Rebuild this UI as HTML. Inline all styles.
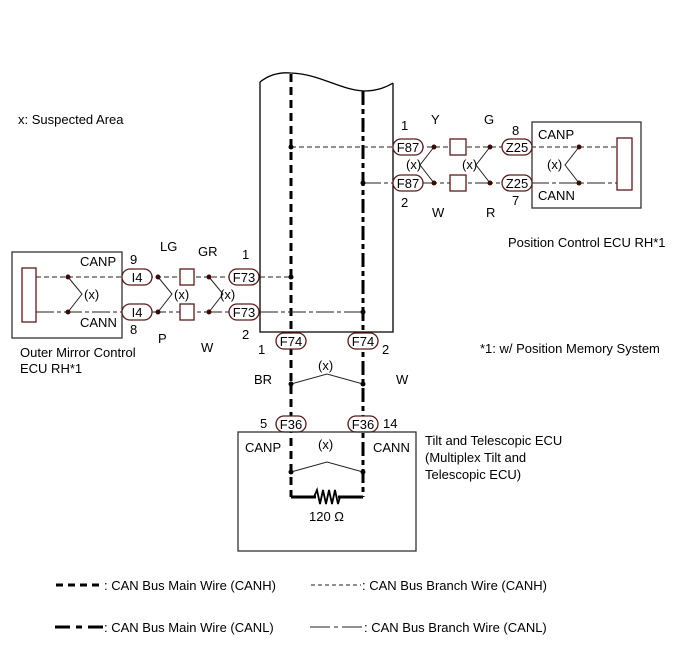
<!DOCTYPE html>
<html><head><meta charset="utf-8"><style>
body{margin:0;background:#fff}
svg{display:block}
text{font-family:"Liberation Sans",sans-serif;font-size:13px;fill:#000}
.pill{fill:#fff;stroke:#5a1a1a;stroke-width:1.3}
.ct{font-size:13px;text-anchor:middle}
</style></head><body>
<svg width="690" height="660" viewBox="0 0 690 660" xmlns="http://www.w3.org/2000/svg">
<text x="18" y="124">x: Suspected Area</text>
<path d="M260 82 C270 74,280 72,291 73 C320 74,340 90,364 91 C375 91,385 88,393 83" fill="none" stroke="#000" stroke-width="1.3"/>
<path d="M260 82 V332 H393 V83" fill="none" stroke="#000" stroke-width="1.3"/>
<line x1="291" y1="74" x2="291" y2="497" stroke="#000" stroke-width="3" stroke-dasharray="8,5"/>
<path d="M363 91 V497" stroke="#000" stroke-width="3" fill="none" stroke-dasharray="14,4,5,4"/>
<path d="M291 497 H363" stroke="#000" stroke-width="3" fill="none"/>
<rect x="316" y="490" width="22" height="14" fill="#fff"/>
<path d="M314 497 L317 490 L320 504 L323 490 L326 504 L329 490 L332 504 L335 490 L338 504 L340 497" fill="none" stroke="#000" stroke-width="1.8"/>
<text x="309" y="521">120 Ω</text>
<line x1="291" y1="147" x2="617" y2="147" stroke="#222" stroke-width="1" stroke-dasharray="5,3"/>
<line x1="363" y1="183" x2="617" y2="183" stroke="#222" stroke-width="1" stroke-dasharray="18,3,4,3"/>
<line x1="36" y1="277" x2="291" y2="277" stroke="#222" stroke-width="1" stroke-dasharray="5,3"/>
<line x1="36" y1="312" x2="363" y2="312" stroke="#222" stroke-width="1" stroke-dasharray="18,3,4,3"/>
<g fill="none" stroke="#222" stroke-width="1">
<path d="M68 277 L82 294 L68 312"/>
<path d="M158 277 L172 294 L158 312"/>
<path d="M209 277 L223 294 L209 312"/>
<path d="M434 147 L420 165 L434 183"/>
<path d="M490 147 L476 165 L490 183"/>
<path d="M579 147 L565 165 L579 183"/>
<path d="M291 384 L327 374 L363 384"/>
<path d="M291 472 L327 462 L363 472"/>
</g>
<g fill="#3a0a0a">
<circle cx="68" cy="277" r="2.5"/><circle cx="68" cy="312" r="2.5"/>
<circle cx="158" cy="277" r="2.5"/><circle cx="158" cy="312" r="2.5"/>
<circle cx="209" cy="277" r="2.5"/><circle cx="209" cy="312" r="2.5"/>
<circle cx="434" cy="147" r="2.5"/><circle cx="434" cy="183" r="2.5"/>
<circle cx="490" cy="147" r="2.5"/><circle cx="490" cy="183" r="2.5"/>
<circle cx="579" cy="147" r="2.5"/><circle cx="579" cy="183" r="2.5"/>
</g>
<g fill="#000">
<circle cx="291" cy="147" r="2.5"/><circle cx="363" cy="183" r="2.5"/>
<circle cx="291" cy="277" r="2.5"/><circle cx="363" cy="312" r="2.5"/>
<circle cx="291" cy="384" r="2.5"/><circle cx="363" cy="384" r="2.5"/>
<circle cx="291" cy="472" r="2.5"/><circle cx="363" cy="472" r="2.5"/>
</g>
<text x="84" y="299">(x)</text><text x="174" y="299">(x)</text><text x="220" y="299">(x)</text>
<text x="406" y="169">(x)</text><text x="462" y="169">(x)</text><text x="547" y="169">(x)</text>
<text x="318" y="370">(x)</text><text x="318" y="449">(x)</text>
<rect x="12" y="252" width="110" height="86" fill="none" stroke="#333" stroke-width="1.3"/>
<rect x="22" y="268" width="14" height="54" fill="#fff" stroke="#5a1a1a" stroke-width="1.3"/>
<text x="80" y="266">CANP</text><text x="80" y="327">CANN</text>
<text x="20" y="357">Outer Mirror Control</text><text x="20" y="373">ECU RH*1</text>
<rect x="532" y="122" width="109" height="86" fill="none" stroke="#333" stroke-width="1.3"/>
<rect x="617" y="138" width="15" height="52" fill="#fff" stroke="#5a1a1a" stroke-width="1.3"/>
<text x="538" y="139">CANP</text><text x="538" y="200">CANN</text>
<text x="508" y="247">Position Control ECU RH*1</text>
<text x="480" y="353">*1: w/ Position Memory System</text>
<g fill="#fff" stroke="#5a1a1a" stroke-width="1.3">
<rect x="180" y="269" width="14" height="16"/><rect x="180" y="304" width="14" height="16"/>
<rect x="450" y="139" width="16" height="16"/><rect x="450" y="175" width="16" height="16"/>
</g>
<g>
<rect class="pill" x="122" y="269" width="30" height="16" rx="8"/><text class="ct" x="137" y="282">I4</text>
<rect class="pill" x="122" y="304" width="30" height="16" rx="8"/><text class="ct" x="137" y="317">I4</text>
<rect class="pill" x="229" y="269" width="30" height="16" rx="8"/><text class="ct" x="244" y="282">F73</text>
<rect class="pill" x="229" y="304" width="30" height="16" rx="8"/><text class="ct" x="244" y="317">F73</text>
<rect class="pill" x="393" y="139" width="30" height="16" rx="8"/><text class="ct" x="408" y="152">F87</text>
<rect class="pill" x="393" y="175" width="30" height="16" rx="8"/><text class="ct" x="408" y="188">F87</text>
<rect class="pill" x="502" y="139" width="30" height="16" rx="8"/><text class="ct" x="517" y="152">Z25</text>
<rect class="pill" x="502" y="175" width="30" height="16" rx="8"/><text class="ct" x="517" y="188">Z25</text>
<rect class="pill" x="276" y="333" width="30" height="16" rx="8"/><text class="ct" x="291" y="346">F74</text>
<rect class="pill" x="348" y="333" width="30" height="16" rx="8"/><text class="ct" x="363" y="346">F74</text>
<rect class="pill" x="276" y="416" width="30" height="16" rx="8"/><text class="ct" x="291" y="429">F36</text>
<rect class="pill" x="348" y="416" width="30" height="16" rx="8"/><text class="ct" x="363" y="429">F36</text>
</g>
<text x="130" y="264">9</text><text x="130" y="334">8</text>
<text x="160" y="251">LG</text><text x="158" y="343">P</text>
<text x="198" y="256">GR</text><text x="201" y="352">W</text>
<text x="242" y="259">1</text><text x="242" y="339">2</text>
<text x="258" y="354">1</text><text x="382" y="354">2</text>
<text x="254" y="384">BR</text><text x="396" y="384">W</text>
<text x="401" y="130">1</text><text x="401" y="207">2</text>
<text x="431" y="124">Y</text><text x="432" y="217">W</text>
<text x="484" y="124">G</text><text x="486" y="217">R</text>
<text x="512" y="135">8</text><text x="512" y="205">7</text>
<text x="260" y="428">5</text><text x="383" y="428">14</text>
<rect x="238" y="432" width="178" height="119" fill="none" stroke="#333" stroke-width="1.3"/>
<text x="245" y="452">CANP</text><text x="373" y="452">CANN</text>
<text x="425" y="445">Tilt and Telescopic ECU</text>
<text x="425" y="462">(Multiplex Tilt and</text>
<text x="425" y="479">Telescopic ECU)</text>
<line x1="56" y1="585" x2="103" y2="585" stroke="#000" stroke-width="3" stroke-dasharray="7,5"/>
<text x="104" y="590">: CAN Bus Main Wire (CANH)</text>
<line x1="311" y1="585" x2="361" y2="585" stroke="#222" stroke-width="1" stroke-dasharray="4,3"/>
<text x="362" y="590">: CAN Bus Branch Wire (CANH)</text>
<path d="M55 627 H70 M76 627 H82 M88 627 H103" stroke="#000" stroke-width="3"/>
<text x="104" y="632">: CAN Bus Main Wire (CANL)</text>
<path d="M310 627 H330 M334 627 H338 M342 627 H362" stroke="#222" stroke-width="1"/>
<text x="364" y="632">: CAN Bus Branch Wire (CANL)</text>
</svg>
</body></html>
